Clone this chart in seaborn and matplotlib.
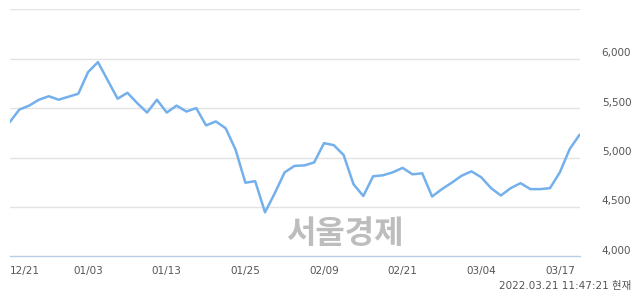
import matplotlib
matplotlib.use("Agg")
import matplotlib.pyplot as plt
import matplotlib.transforms as mtransforms
import seaborn as sns
import pandas as pd
import numpy as np

prices = [5355, 5485, 5525, 5585, 5620, 5585, 5615, 5645, 5865, 5965,
          5780, 5595, 5655, 5550, 5455, 5585, 5455, 5525, 5465, 5500,
          5325, 5365, 5295, 5080, 4745, 4760, 4445, 4640, 4850, 4915,
          4920, 4950, 5145, 5125, 5025, 4730, 4610, 4810, 4820, 4850,
          4895, 4830, 4840, 4605, 4680, 4745, 4815, 4860, 4800, 4690,
          4615, 4690, 4740, 4680, 4680, 4690, 4850, 5085, 5230]
tick_idx = [0, 8, 16, 24, 32, 40, 48, 56]
tick_labels = ["12/21", "01/03", "01/13", "01/25", "02/09", "02/21", "03/04", "03/17"]
y_ticks = [4000, 4500, 5000, 5500, 6000]
y_labels = ["4,000", "4,500", "5,000", "5,500", "6,000"]
grid_levels = [4500, 5000, 5500, 6000, 6500]
watermark = "서울경제"
stamp = "2022.03.21 11:47:21 현재"

sns.set_style("white")
plt.rcParams['font.family'] = ['DejaVu Sans', 'Noto Sans CJK KR']

df = pd.DataFrame({"idx": np.arange(len(prices)), "price": prices})

fig = plt.figure(figsize=(6.4, 2.94), dpi=100)
W, H = 640, 294
left, right = 9.5 / W, 579.5 / W
top, bottom = 1 - 9.3 / H, 1 - 256.3 / H
ax = fig.add_axes([left, bottom, right - left, top - bottom])

for g in grid_levels:
    ax.axhline(g, color="#e3e3e3", lw=1.0, zorder=0)

sns.lineplot(data=df, x="idx", y="price", ax=ax, color="#74b0ec", lw=1.8, zorder=3)

ax.set_xlim(0, len(prices) - 1)
ax.set_ylim(4000, 6500)
for s in ["top", "left", "right"]:
    ax.spines[s].set_visible(False)
ax.spines["bottom"].set_color("#b9cde6")
ax.spines["bottom"].set_linewidth(1.0)

ax.set_xticks(tick_idx)
ax.set_xticklabels(tick_labels, fontsize=7.5, color="#555555")
ax.tick_params(axis="x", direction="out", length=9, width=1.0, color="#b9cde6", pad=-1.8)
xl = ax.get_xticklabels()
xl[0].set_ha("left")

ax.yaxis.tick_right()
ax.set_yticks(y_ticks)
ax.set_yticklabels(y_labels, fontsize=7.5, color="#555555")
ax.tick_params(axis="y", length=0, pad=16)
off = mtransforms.ScaledTranslation(0, 6.5 / 100, fig.dpi_scale_trans)
for lab in ax.get_yticklabels():
    lab.set_transform(lab.get_transform() + off)

ax.set_xlabel("")
ax.set_ylabel("")

fig.text(345 / W, 1 - 234.5 / H, watermark, fontsize=23, fontweight="bold",
         color="#bdbdbd", ha="center", va="center", family=["Noto Sans CJK KR"])
fig.text(631 / W, 1 - 286 / H, stamp, fontsize=7.5, color="#555555",
         ha="right", va="center", family=["DejaVu Sans", "Noto Sans CJK KR"])

fig.savefig("out.png", dpi=100)
